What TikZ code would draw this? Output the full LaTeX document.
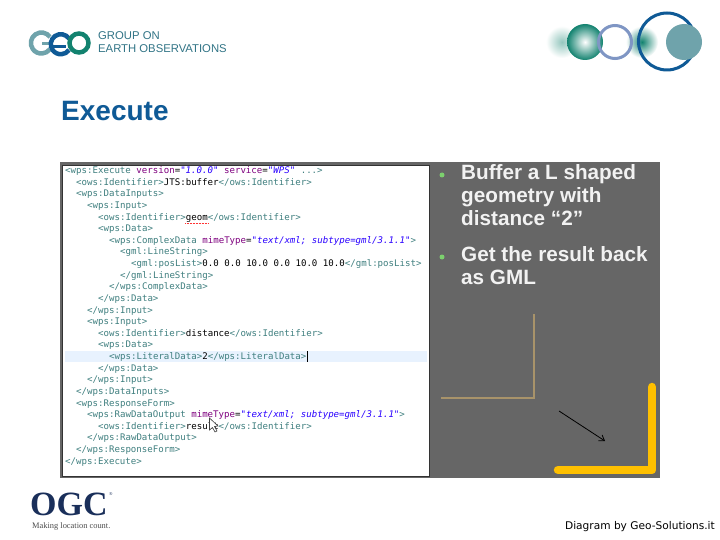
\documentclass[tikz,border=0pt]{standalone}
\usepackage{fontspec}
\setmainfont{Liberation Sans}
\setmonofont{DejaVu Sans Mono}
\newfontfamily\serifbold{Liberation Serif}
\newfontfamily\creditfont{DejaVu Sans}
\usetikzlibrary{positioning,arrows.meta}
\definecolor{panelgrey}{HTML}{666666}
\definecolor{geoblue}{HTML}{0F5A96}
\definecolor{geogreen}{HTML}{12826F}
\definecolor{geogrey}{HTML}{6FA3AB}
\definecolor{ringcol}{HTML}{7F96C4}
\definecolor{dotcol}{HTML}{7CD06E}
\definecolor{tagcol}{HTML}{3F7F7F}
\definecolor{attrcol}{HTML}{7F007F}
\definecolor{valcol}{HTML}{2A00FF}
\definecolor{rowcol}{HTML}{E8F2FE}
\definecolor{inputcol}{HTML}{A8936A}
\definecolor{bufcol}{HTML}{FFC000}
\definecolor{ogccol}{HTML}{1A2F5A}
\newcommand{\tg}[1]{\textcolor{tagcol}{#1}}
\newcommand{\atr}[1]{\textcolor{attrcol}{#1}}
\newcommand{\val}[1]{\textcolor{valcol}{\itshape #1}}
\begin{document}
\begin{tikzpicture}[x=1pt,y=-1pt,
	codeline/.style={anchor=west,inner sep=0pt,text height=7pt,text depth=2pt,font=\ttfamily\fontsize{9.1}{11}\selectfont},
	nextline/.style={codeline,below=11.63pt of #1.west,anchor=west},
	bullettext/.style={anchor=north west,inner sep=0pt,align=left,text=white!95!black,font=\bfseries\fontsize{20.7}{23}\selectfont},
	bulletdot/.style={circle,fill=dotcol,inner sep=0pt,minimum size=5pt},
	geotext/.style={anchor=west,inner sep=0pt,text=tagcol!70!geoblue,font=\fontsize{11.3}{14}\selectfont}]
		\useasboundingbox (0,0) rectangle (720,540);
		\fill[white] (0,0) rectangle (720,540);

		\shade[inner color=geogreen!45!white,outer color=white,draw=none] (562,42) circle (16);
		\shade[inner color=white,outer color=geogreen] (585,42) circle (18);
		\shade[inner color=geogreen,outer color=white,draw=none] (642,42) circle (16);
		\draw[line width=3pt,draw=ringcol] (615,42) circle (16.5);
		\draw[line width=3pt,draw=geoblue] (667,41.5) circle (28.5);
		\fill[geogrey] (684,42) circle (18);

		\draw[line width=4.5pt,draw=geogrey] (50,37) arc (-35:-325:10.5 and 10.5);
		\draw[line width=3pt,draw=geogrey] (42,44) -- (52,44);
		\draw[line width=4.5pt,draw=geoblue] (69,38.5) arc (-35:-325:10 and 10);
		\draw[line width=3pt,draw=geoblue] (52,46.5) -- (66,46.5);
		\draw[line width=4.5pt,draw=geogreen] (79,43) circle (9.5);

		\node[geotext] (geoOne) at (98,36) {GROUP ON};
		\node[geotext,below=13pt of geoOne.west,anchor=west] (geoTwo) {EARTH OBSERVATIONS};
		\node[anchor=west,inner sep=0pt,text=geoblue,font=\bfseries\fontsize{28}{30}\selectfont] (title) at (61,111) {Execute};

		\fill[panelgrey] (60,162) rectangle (660,478);
		\draw[fill=white,draw=black!80,line width=1pt] (62.5,165.5) rectangle (429.5,476);
		\fill[rowcol] (65,350.5) rectangle (427,362);

		\node[codeline] (l1) at (65,171) {\tg{<wps:Execute} \atr{version}=\val{"1.0.0"} \atr{service}=\val{"WPS"} \tg{...>}};
		\node[nextline=l1,xshift=11pt] (l2) {\tg{<ows:Identifier>}JTS:buffer\tg{</ows:Identifier>}};
		\node[nextline=l2] (l3) {\tg{<wps:DataInputs>}};
		\node[nextline=l3,xshift=11pt] (l4) {\tg{<wps:Input>}};
		\node[nextline=l4,xshift=11pt] (l5) {\tg{<ows:Identifier>}geom\tg{</ows:Identifier>}};
		\node[nextline=l5] (l6) {\tg{<wps:Data>}};
		\node[nextline=l6,xshift=11pt] (l7) {\tg{<wps:ComplexData} \atr{mimeType}=\val{"text/xml; subtype=gml/3.1.1"}\tg{>}};
		\node[nextline=l7,xshift=11pt] (l8) {\tg{<gml:LineString>}};
		\node[nextline=l8,xshift=11pt] (l9) {\tg{<gml:posList>}0.0 0.0 10.0 0.0 10.0 10.0\tg{</gml:posList>}};
		\node[nextline=l9,xshift=-11pt] (l10) {\tg{</gml:LineString>}};
		\node[nextline=l10,xshift=-11pt] (l11) {\tg{</wps:ComplexData>}};
		\node[nextline=l11,xshift=-11pt] (l12) {\tg{</wps:Data>}};
		\node[nextline=l12,xshift=-11pt] (l13) {\tg{</wps:Input>}};
		\node[nextline=l13] (l14) {\tg{<wps:Input>}};
		\node[nextline=l14,xshift=11pt] (l15) {\tg{<ows:Identifier>}distance\tg{</ows:Identifier>}};
		\node[nextline=l15] (l16) {\tg{<wps:Data>}};
		\node[nextline=l16,xshift=11pt] (l17) {\tg{<wps:LiteralData>}2\tg{</wps:LiteralData>}};
		\node[nextline=l17,xshift=-11pt] (l18) {\tg{</wps:Data>}};
		\node[nextline=l18,xshift=-11pt] (l19) {\tg{</wps:Input>}};
		\node[nextline=l19,xshift=-11pt] (l20) {\tg{</wps:DataInputs>}};
		\node[nextline=l20] (l21) {\tg{<wps:ResponseForm>}};
		\node[nextline=l21,xshift=11pt] (l22) {\tg{<wps:RawDataOutput} \atr{mimeType}=\val{"text/xml; subtype=gml/3.1.1"}\tg{>}};
		\node[nextline=l22,xshift=11pt] (l23) {\tg{<ows:Identifier>}result\tg{</ows:Identifier>}};
		\node[nextline=l23,xshift=-11pt] (l24) {\tg{</wps:RawDataOutput>}};
		\node[nextline=l24,xshift=-11pt] (l25) {\tg{</wps:ResponseForm>}};
		\node[nextline=l25,xshift=-11pt] (l26) {\tg{</wps:Execute>}};

		\draw[red!80!white,densely dotted,line width=.5pt] (185,223.5) -- (208,223.5);
		\draw[black,line width=1pt] (307,351) -- (307,362);
		\draw[fill=white,line width=.6pt,draw=black!75] (209.5,418) -- (209.5,430) -- (212.5,427.5) -- (215,432) -- (217,431) -- (214.5,426.5) -- (218,426) -- cycle;

		\node[bulletdot] (dotOne) at (442,175) {};
		\node[bullettext] (textOne) at (461,164) {Buffer a L shaped\\geometry with\\distance “2”};
		\node[bulletdot] (dotTwo) at (442,257) {};
		\node[bullettext] (textTwo) at (461,246) {Get the result back\\as GML};

		\coordinate (inA) at (441,398);
		\coordinate (inB) at (534,398);
		\coordinate (inC) at (534,314);
		\draw[line width=1.5pt,draw=inputcol] (inA) -- (inB) -- (inC);

		\coordinate (arrowA) at (559,411);
		\coordinate (arrowB) at (605,441);
		\draw[-{Straight Barb[length=5pt,width=7pt]},line width=.8pt] (arrowA) -- (arrowB);

		\coordinate (bufA) at (558,470);
		\coordinate (bufB) at (652,470);
		\coordinate (bufC) at (652,387);
		\draw[line width=8.5pt,draw=bufcol,line cap=round,line join=round] (bufA) -- (bufB) -- (bufC);

		\node[anchor=west,inner sep=0pt,text=ogccol,font=\serifbold\bfseries\fontsize{34}{36}\selectfont,text height=24pt,text depth=0pt] (ogc) at (30,503.5) {OGC};
		\node[anchor=west,inner sep=0pt,text=ogccol,font=\serifbold\fontsize{4.5}{5}\selectfont] (reg) at (109,494) {®};
		\node[anchor=west,inner sep=0pt,text=black!70,font=\serifbold\fontsize{8.4}{9}\selectfont] (ogcline) at (32,526) {Making location count.};
		\node[anchor=east,inner sep=0pt,font=\creditfont\fontsize{10.6}{13}\selectfont] (credit) at (715,527) {Diagram by Geo-Solutions.it};
	\end{tikzpicture}
\end{document}
